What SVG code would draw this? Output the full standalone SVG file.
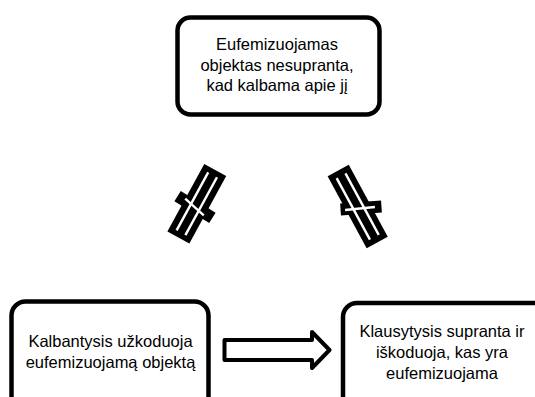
<svg xmlns="http://www.w3.org/2000/svg" width="535" height="397" viewBox="0 0 535 397">
<style>
.box{fill:#fff;stroke:#000;stroke-width:4.5}
.lbl{font-family:"Liberation Sans",Arial,sans-serif;font-size:16.5px;fill:#000;text-anchor:middle}
.blk{fill:#000}
.wl{stroke:#fff;stroke-width:2.4;stroke-linecap:butt}
.arrow{fill:#fff;stroke:#000;stroke-width:4;stroke-linejoin:round}
</style>
<rect width="535" height="397" fill="#fff"/>
<g id="node-top">
<rect class="box" x="177.5" y="17.5" width="202" height="97" rx="13"/>
<text class="lbl" x="277" y="50">Eufemizuojamas</text>
<text class="lbl" x="277" y="70.5">objektas nesupranta,</text>
<text class="lbl" x="277" y="91">kad kalbama apie jį</text>
</g>
<g id="node-left">
<rect class="box" x="11.5" y="301.5" width="197" height="120" rx="14"/>
<text class="lbl" x="110.5" y="347">Kalbantysis užkoduoja</text>
<text class="lbl" x="110.5" y="368">eufemizuojamą objektą</text>
</g>
<g id="node-right">
<rect class="box" x="343" y="303" width="220" height="120" rx="14"/>
<text class="lbl" x="442" y="336.5">Klausytysis supranta ir</text>
<text class="lbl" x="442" y="357.5">iškoduoja, kas yra</text>
<text class="lbl" x="442" y="378.5">eufemizuojama</text>
</g>
<g id="connectors">
<g id="blocked-left">
<rect class="blk" x="-12.5" y="-38.5" width="25" height="77" transform="translate(196.8,203.8) rotate(28.6)"/>
<rect class="blk" x="-20.5" y="-6" width="41" height="12" transform="translate(195,207) rotate(32)"/>
<g transform="translate(196.8,203.8) rotate(28.6)">
<line class="wl" x1="-5" y1="-33" x2="-5" y2="33"/>
<line class="wl" x1="5" y1="-33" x2="5" y2="33"/>
</g>
<line class="wl" x1="-12.5" y1="0" x2="12.5" y2="0" transform="translate(194.5,207) rotate(42)"/>
</g>
<g id="blocked-right">
<rect class="blk" x="-12" y="-41" width="24" height="82" transform="translate(357.7,206.5) rotate(-28.4)"/>
<rect class="blk" x="-20.5" y="-6" width="41" height="12" transform="translate(361,208) rotate(-4)"/>
<g transform="translate(357.7,206.5) rotate(-28.4)">
<line class="wl" x1="-5" y1="-35" x2="-5" y2="35"/>
<line class="wl" x1="5" y1="-35" x2="5" y2="35"/>
</g>
<line class="wl" x1="-15" y1="0" x2="15" y2="0" transform="translate(360,208.5) rotate(-6)"/>
</g>
<path id="arrow-left-right" class="arrow" d="M224.5,340 H312 V332 L329.5,350 L312,368 V360 H224.5 Z"/>
</g>
</svg>
